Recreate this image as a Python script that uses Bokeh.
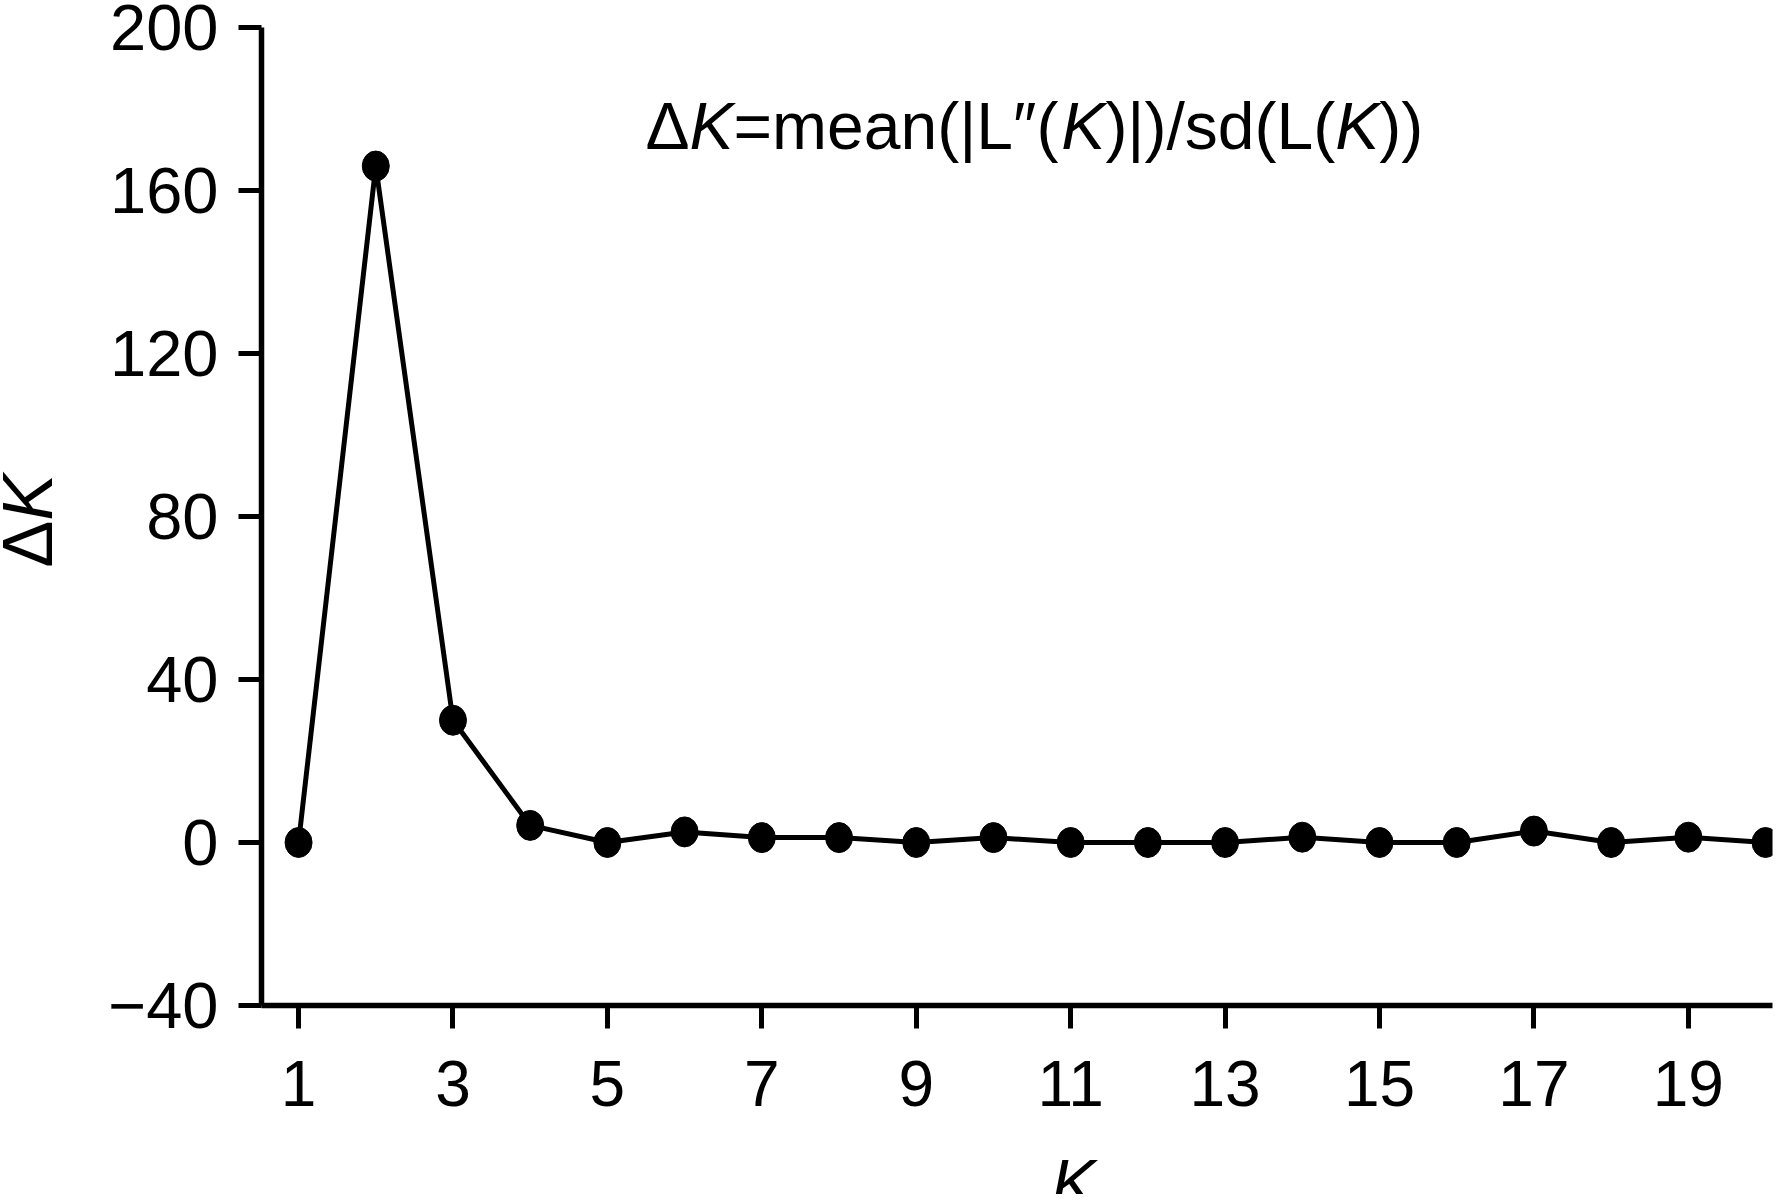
import math
from bokeh.plotting import figure
from bokeh.layouts import row, column
from bokeh.models import ColumnDataSource, FixedTicker, Label, Range1d
from bokeh.embed import file_html
from bokeh.resources import INLINE

# ---- data ----
k_values = list(range(1, 21))
delta_k = [0, 166, 30, 4.2, 0, 2.6, 1.2, 1.2, 0, 1.2, 0, 0, 0, 1.3, 0, 0, 2.8, 0, 1.3, 0]
x_ticks = [1, 3, 5, 7, 9, 11, 13, 15, 17, 19]
y_ticks = [-40, 0, 40, 80, 120, 160, 200]

FONT = "Liberation Sans"
TOTAL_W, TOTAL_H = 1773, 1194
LEFT_W = 70
XLAB_H = 50
MAIN_W = TOTAL_W - LEFT_W
MAIN_H = TOTAL_H - XLAB_H


def blank(width, height):
    f = figure(width=width, height=height, output_backend="svg", toolbar_location=None,
               x_axis_type=None, y_axis_type=None,
               x_range=Range1d(0, width), y_range=Range1d(0, height),
               min_border=0, min_border_left=0, min_border_right=0,
               min_border_top=0, min_border_bottom=0)
    f.outline_line_color = None
    f.grid.visible = False
    f.background_fill_color = "white"
    f.border_fill_color = "white"
    return f


# ---- main plot ----
p = figure(width=MAIN_W, height=MAIN_H, output_backend="svg", toolbar_location=None,
           x_range=Range1d(0.52, 20.09), y_range=Range1d(-40, 200),
           min_border_left=261 - LEFT_W, min_border_right=1, min_border_top=27,
           min_border_bottom=MAIN_H - 1005)
p.outline_line_color = None
p.xgrid.visible = False
p.ygrid.visible = False
p.background_fill_color = "white"
p.border_fill_color = "white"

src = ColumnDataSource(dict(k=k_values, dk=delta_k))
p.line("k", "dk", source=src, line_color="black", line_width=5)
p.ellipse("k", "dk", source=src, width=27, height=30, width_units="screen", height_units="screen",
          fill_color="black", line_color="black")

for ax in (p.xaxis[0], p.yaxis[0]):
    ax.axis_line_width = 5.5
    ax.axis_line_color = "black"
    ax.major_tick_line_width = 5
    ax.major_tick_line_color = "black"
    ax.major_tick_in = 0
    ax.major_tick_out = 23
    ax.minor_tick_line_color = None
    ax.major_label_text_font = FONT
    ax.major_label_text_color = "black"

p.xaxis.ticker = FixedTicker(ticks=x_ticks)
p.yaxis.ticker = FixedTicker(ticks=y_ticks)
p.xaxis.major_label_text_font_size = "64px"
p.yaxis.major_label_text_font_size = "65px"
p.xaxis.major_label_standoff = 32
p.yaxis.major_label_standoff = 20
p.yaxis.major_label_overrides = {-40: "\u221240"}

# ---- formula annotation ----
fs = 66
segments = [
    ("\u0394", "normal", 0.667),
    ("K", "italic", 0.667),
    ("=mean(|L\u2033(", "normal", 0.584 + 0.833 + 0.556 * 3 + 0.333 + 0.26 + 0.556 + 0.40 + 0.333),
    ("K", "italic", 0.667),
    (")|)/sd(L(", "normal", 0.333 + 0.26 + 0.333 + 0.278 + 0.5 + 0.556 + 0.333 + 0.556 + 0.333),
    ("K", "italic", 0.667),
    ("))", "normal", 0.666),
]
cx = 384
for txt, style, w in segments:
    p.add_layout(Label(x=cx, y=880, x_units="screen", y_units="screen", text=txt,
                       text_font=FONT, text_font_size=f"{fs}px", text_font_style=style,
                       text_baseline="alphabetic", text_align="left", text_color="black"))
    cx += w * fs

# ---- y axis title "ΔK" (K italic) in a strip on the left ----
ylab = blank(LEFT_W, TOTAL_H)
yfs = 70
ystart = TOTAL_H - 567
ylab.add_layout(Label(x=27, y=ystart, x_units="screen", y_units="screen", text="\u0394",
                      angle=math.pi / 2, text_font=FONT, text_font_size=f"{yfs}px",
                      text_baseline="alphabetic", text_align="left", text_color="black"))
ylab.add_layout(Label(x=27, y=ystart + 0.667 * yfs, x_units="screen", y_units="screen", text="K",
                      angle=math.pi / 2, text_font=FONT, text_font_size=f"{yfs}px",
                      text_font_style="italic",
                      text_baseline="alphabetic", text_align="left", text_color="black"))

# ---- x axis title "K" in a strip below (its frame aligns with the main frame) ----
xlab = blank(MAIN_W, XLAB_H)
xlab.add_layout(Label(x=1073 - 261, y=12, x_units="screen", y_units="screen", text="K",
                      text_font=FONT, text_font_size="66px", text_font_style="italic",
                      text_baseline="alphabetic", text_align="center", text_color="black"))

layout = row(ylab, column(p, xlab, spacing=0), spacing=0)
open("out.html", "w").write(file_html(layout, INLINE))
